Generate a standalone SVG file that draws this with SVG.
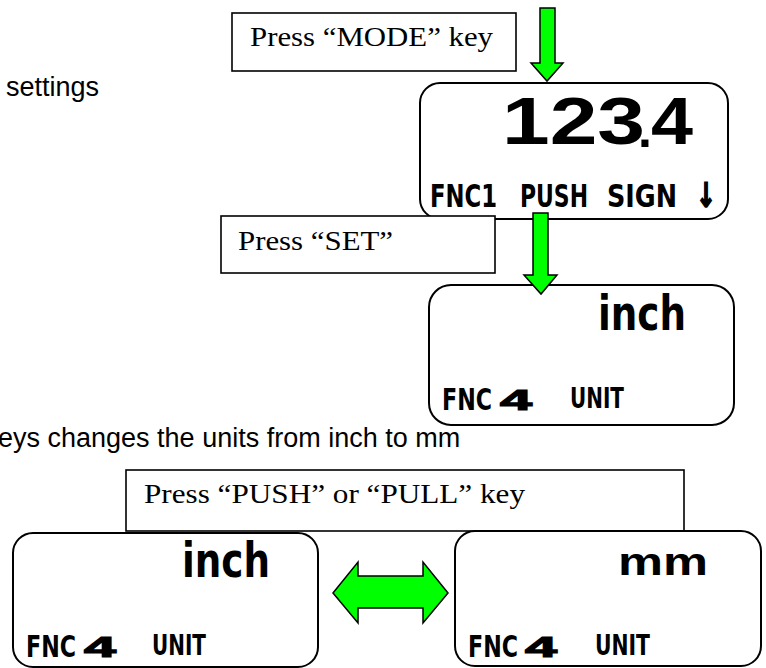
<svg xmlns="http://www.w3.org/2000/svg" width="766" height="668" viewBox="0 0 766 668">
<style>
.box{fill:#fff;stroke:#000;stroke-width:1.6}
.lcd{fill:#fff;stroke:#000;stroke-width:2}
.serif{font-family:"Liberation Serif",serif;font-size:28px;fill:#000}
.sans{font-family:"Liberation Sans",Arial,sans-serif;font-size:27px;fill:#000}
.cond{font-family:"DejaVu Sans Condensed","DejaVu Sans",sans-serif;font-weight:bold;fill:#000}
.heavy{font-family:"Liberation Sans",Arial,sans-serif;font-weight:bold;fill:#000}
.four{font-family:"Liberation Sans",Arial,sans-serif;font-weight:bold;font-size:29px;fill:#000;stroke:#000;stroke-width:1.2}
.arrow{fill:#00ff00;stroke:#000;stroke-width:1.5;stroke-linejoin:miter}
</style>
<rect width="766" height="668" fill="#fff"/>
<g id="captions">
<text class="sans" x="6" y="96">settings</text>
<text class="sans" x="-2" y="447">eys changes the units from inch to mm</text>
</g>
<g id="label-mode">
<rect class="box" x="232" y="13" width="284" height="58"/>
<text class="serif" x="250" y="46" textLength="243" lengthAdjust="spacingAndGlyphs">Press “MODE” key</text>
</g>
<g id="display-1234">
<rect class="lcd" x="420" y="83" width="308" height="136" rx="20"/>
<text class="heavy" x="502" y="144" font-size="66" textLength="143" lengthAdjust="spacingAndGlyphs">123</text>
<text class="heavy" x="638" y="147" font-size="50">.</text>
<text class="heavy" x="651" y="144" font-size="66" textLength="42" lengthAdjust="spacingAndGlyphs">4</text>
<text class="cond" x="430" y="207" font-size="32" textLength="67" lengthAdjust="spacingAndGlyphs">FNC1</text>
<text class="cond" x="520" y="207" font-size="32" textLength="68" lengthAdjust="spacingAndGlyphs">PUSH</text>
<text class="cond" x="607" y="207" font-size="32" textLength="70" lengthAdjust="spacingAndGlyphs">SIGN</text>
<text class="cond" x="696" y="207" font-size="34" textLength="20" lengthAdjust="spacingAndGlyphs" stroke="#000" stroke-width="1.5">↓</text>
</g>
<g id="label-set">
<rect class="box" x="221" y="216" width="274" height="57"/>
<text class="serif" x="238" y="250" textLength="155" lengthAdjust="spacingAndGlyphs">Press “SET”</text>
</g>
<g id="display-inch-1">
<rect class="lcd" x="429" y="285" width="305" height="140" rx="22"/>
<text class="cond" x="598" y="330" font-size="48" textLength="88" lengthAdjust="spacingAndGlyphs">inch</text>
<text class="cond" x="442" y="410" font-size="30" textLength="50" lengthAdjust="spacingAndGlyphs">FNC</text>
<text class="four" x="500" y="410" textLength="32" lengthAdjust="spacingAndGlyphs">4</text>
<text class="cond" x="570" y="408" font-size="29" textLength="54" lengthAdjust="spacingAndGlyphs">UNIT</text>
</g>
<g id="label-push">
<rect class="box" x="126" y="470" width="558" height="61"/>
<text class="serif" x="144" y="503" textLength="381" lengthAdjust="spacingAndGlyphs">Press “PUSH” or “PULL” key</text>
</g>
<g id="display-inch-2">
<rect class="lcd" x="13" y="533" width="305" height="134" rx="20"/>
<text class="cond" x="182" y="577" font-size="48" textLength="88" lengthAdjust="spacingAndGlyphs">inch</text>
<text class="cond" x="26" y="657" font-size="30" textLength="50" lengthAdjust="spacingAndGlyphs">FNC</text>
<text class="four" x="84" y="657" textLength="32" lengthAdjust="spacingAndGlyphs">4</text>
<text class="cond" x="152" y="655" font-size="29" textLength="54" lengthAdjust="spacingAndGlyphs">UNIT</text>
</g>
<g id="display-mm">
<rect class="lcd" x="455" y="531" width="306" height="135" rx="20"/>
<text class="heavy" x="618" y="575" font-size="38" textLength="90" lengthAdjust="spacingAndGlyphs">mm</text>
<text class="cond" x="468" y="657" font-size="30" textLength="50" lengthAdjust="spacingAndGlyphs">FNC</text>
<text class="four" x="525" y="657" textLength="32" lengthAdjust="spacingAndGlyphs">4</text>
<text class="cond" x="595" y="655" font-size="29" textLength="55" lengthAdjust="spacingAndGlyphs">UNIT</text>
</g>
<g id="connectors">
<path class="arrow" d="M540,8 H555 V63 H563 L547,81 L531,63 H540 Z"/>
<path class="arrow" d="M533,213 H548 V275 H557 L541,294 L524,275 H533 Z"/>
<path class="arrow" d="M333,593 L358,562 V576 H423 V562 L448,593 L423,623 V608 H358 V623 Z"/>
</g>
</svg>
